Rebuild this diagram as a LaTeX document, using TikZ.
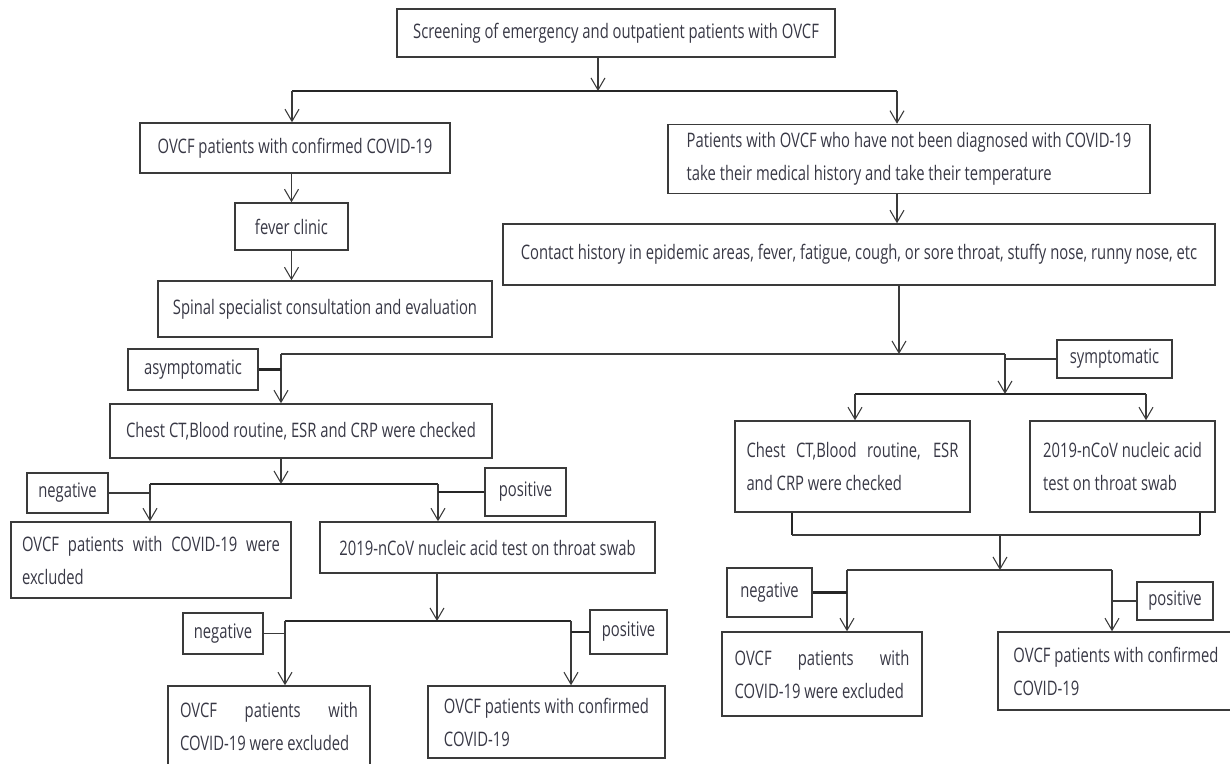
\documentclass[tikz,border=0pt]{standalone}
\usepackage{fontspec}
\setmainfont{Open Sans}[FakeStretch=0.74]
\usetikzlibrary{arrows.meta,calc}
\definecolor{ln}{HTML}{3A3A3A}
\definecolor{tx}{HTML}{383845}
\begin{document}
\begin{tikzpicture}[x=0.75pt,y=-0.75pt,
 box/.style={draw=ln, line width=1.1pt, text=tx, font=\fontsize{15}{24.75}\selectfont, inner sep=0pt},
 bsz/.style 2 args={minimum width=#1*0.75pt, minimum height=#2*0.75pt},
 arr/.style={draw=ln, line width=0.8pt, -{Straight Barb[length=9pt,width=10.5pt,line width=0.8pt]}},
 thinln/.style={draw=ln, line width=0.9pt},
 thickln/.style={draw=black!85, line width=2.2pt}
]
\useasboundingbox (0,0) rectangle (1230,763);
% nodes
\node[box,bsz={438}{48}] (scr) at (616,33) {Screening of emergency and outpatient patients with OVCF};
\node[box,bsz={310}{50}] (conf) at (295,148) {OVCF patients with confirmed COVID-19};
\node[box,bsz={482}{69},align=left] (notd) at (909,159) {Patients with OVCF who have not been diagnosed with COVID-19\\take their medical history and take their temperature};
\node[box,bsz={113}{47}] (fev) at (291.5,226.5) {fever clinic};
\node[box,bsz={334}{56}] (spin) at (325,309) {Spinal specialist consultation and evaluation};
\node[box,bsz={712}{61}] (cont) at (859,254.5) {Contact history in epidemic areas, fever, fatigue, cough, or sore throat, stuffy nose, runny nose, etc};
\node[box,bsz={130}{41}] (asym) at (193,369.5) {asymptomatic};
\node[box,bsz={382}{54}] (chl) at (301,431) {Chest CT,Blood routine, ESR and CRP were checked};
\node[box,bsz={115}{38}] (sym) at (1114.5,359) {symptomatic};
\node[box,bsz={235}{91},align=left] (chr) at (852.5,466.5) {\makebox[159pt][s]{Chest CT,Blood routine, ESR}\\and CRP were checked};
\node[box,bsz={185}{91},align=left] (nucr) at (1122.5,466.5) {2019-nCoV nucleic acid\\test on throat swab};
\node[box,bsz={81}{40}] (negl) at (67.5,493) {negative};
\node[box,bsz={81}{48}] (posl) at (525.5,492) {positive};
\node[box,bsz={280}{76},align=left] (exl) at (151,560) {\makebox[193.5pt][s]{OVCF patients with COVID-19 were}\\excluded};
\node[box,bsz={335}{51}] (nucl) at (487.5,547.5) {2019-nCoV nucleic acid test on throat swab};
\node[box,bsz={80}{41}] (neg2) at (223,633.5) {negative};
\node[box,bsz={77}{44}] (pos2) at (628.5,632) {positive};
\node[box,bsz={202}{80},align=left] (ex2) at (269,726) {\makebox[133.5pt][s]{OVCF patients with}\\COVID-19 were excluded};
\node[box,bsz={237}{72},align=left] (cf2) at (546.5,722) {OVCF patients with confirmed\\COVID-19};
\node[box,bsz={85}{49}] (negr) at (769.5,592.5) {negative};
\node[box,bsz={76}{38}] (posr) at (1175,601) {positive};
\node[box,bsz={200}{84},align=left] (exr) at (822,674) {\makebox[131pt][s]{OVCF patients with}\\COVID-19 were excluded};
\node[box,bsz={236}{78},align=left] (cfr) at (1116,671) {OVCF patients with confirmed\\COVID-19};
% coordinates
\coordinate (b1M) at (598,91);
\coordinate (b1L) at (292,91);
\coordinate (b1R) at (897,91);
\coordinate (s1) at (899,354);
\coordinate (a1) at (281,354);
\coordinate (a2) at (1005,354);
\coordinate (b2) at (1005,394);
\coordinate (b2L) at (855,394);
\coordinate (b2R) at (1146,394);
\coordinate (k1) at (792,535);
\coordinate (k2) at (1200,535);
\coordinate (k3) at (1000,535);
\coordinate (b3) at (1000,570);
\coordinate (b3L) at (847,570);
\coordinate (b3R) at (1112,570);
\coordinate (b4) at (281,484);
\coordinate (b4L) at (150,484);
\coordinate (b4R) at (438,484);
\coordinate (b5) at (437,621);
\coordinate (b5L) at (285,621);
\coordinate (b5R) at (571,621);
% connectors top
\draw[arr] (b1M |- scr.south) -- (b1M);
\draw[thickln] (b1L) -- (b1R);
\draw[arr] (b1L) -- (b1L |- conf.north);
\draw[arr] (b1R) -- (b1R |- notd.north);
\draw[arr] (fev.north |- conf.south) -- (fev.north);
\draw[arr] (fev.south) -- (fev.south |- spin.north);
\draw[arr] (b1R |- notd.south) -- (b1R |- cont.north);
\draw[arr] (s1 |- cont.south) -- (s1);
\draw[thinln] (a1) -- (a2);
\draw[arr] (a1) -- (a1 |- chl.north);
\draw[thickln] (asym.east) -- (asym.east -| a1);
\draw[arr] (a2) -- (b2);
\draw[thinln] (sym.west) -- (sym.west -| a2);
\draw[thickln] (b2L) -- (b2R);
\draw[arr] (b2L) -- (b2L |- chr.north);
\draw[arr] (b2R) -- (b2R |- nucr.north);
% right lower
\draw[thickln] (k1 |- chr.south) -- (k1);
\draw[thickln] (k2 |- nucr.south) -- (k2);
\draw[thinln] (k1) -- (k2);
\draw[arr] (k3) -- (b3);
\draw[thinln] (b3L) -- (b3R);
\draw[arr] (b3L) -- (b3L |- exr.north);
\draw[arr] (b3R) -- (b3R |- cfr.north);
\draw[thickln] (negr.east) -- (negr.east -| b3L);
\draw[thinln] (posr.west) -- (posr.west -| b3R);
% left lower
\draw[arr] (b4 |- chl.south) -- (b4);
\draw[thickln] (b4L) -- (b4R);
\draw[arr] (b4L) -- (b4L |- exl.north);
\draw[arr] (b4R) -- (b4R |- nucl.north);
\draw[thinln] (negl.east) -- (negl.east -| b4L);
\draw[thickln] (posl.west) -- (posl.west -| b4R);
\draw[arr] (b5 |- nucl.south) -- (b5);
\draw[thickln] (b5L) -- (b5R);
\draw[arr] (b5L) -- (b5L |- ex2.north);
\draw[arr] (b5R) -- (b5R |- cf2.north);
\draw[thinln] (neg2.east) -- (neg2.east -| b5L);
\draw[thickln] (pos2.west) -- (pos2.west -| b5R);
\end{tikzpicture}
\end{document}
